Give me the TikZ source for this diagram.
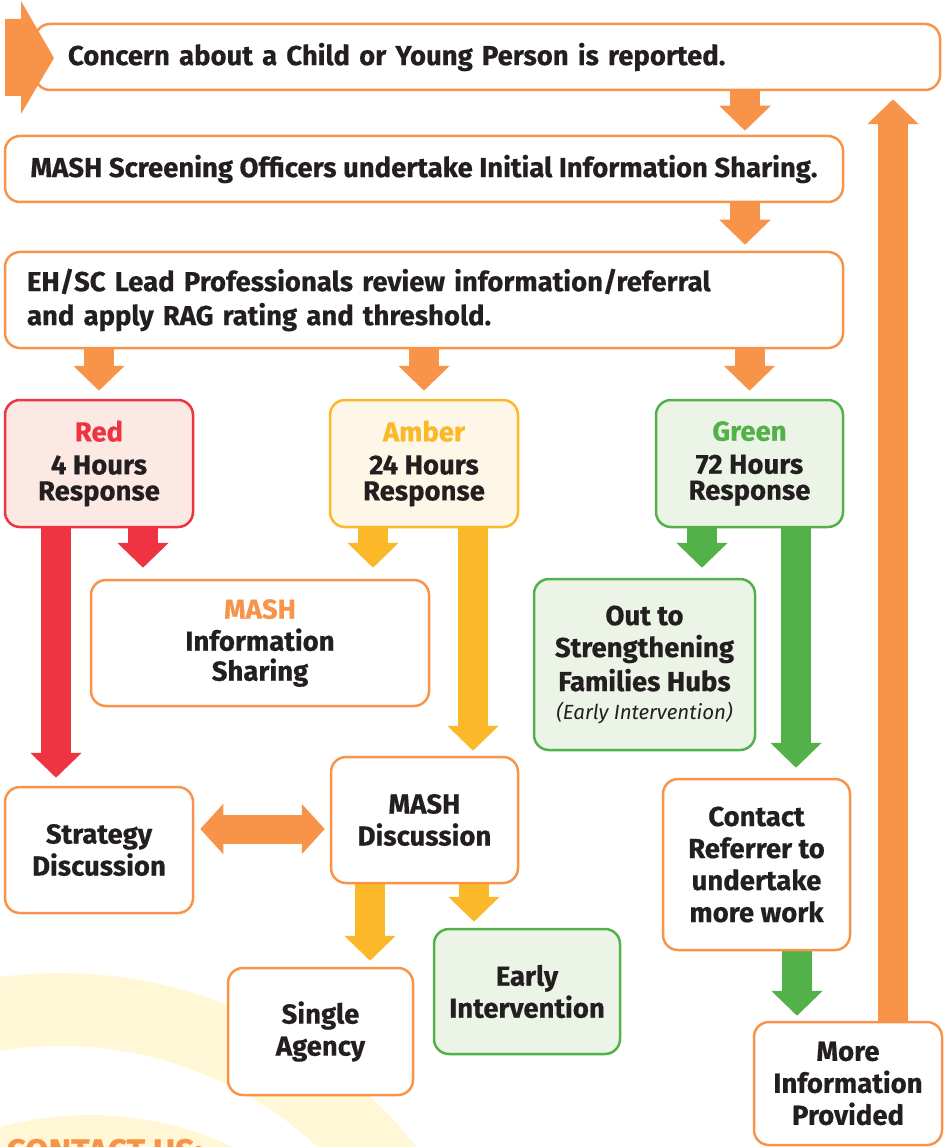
\documentclass[tikz,border=0pt]{standalone}
\usepackage{fontspec}
\setmainfont{Fira Sans}[BoldFeatures={FakeBold=0.5}]
\usetikzlibrary{arrows.meta}
\definecolor{org}{HTML}{F7944A}
\definecolor{redc}{HTML}{EE3442}
\definecolor{amb}{HTML}{FBB829}
\definecolor{grn}{HTML}{52B148}
\definecolor{redf}{HTML}{FDE9E4}
\definecolor{ambf}{HTML}{FEF6E7}
\definecolor{grnf}{HTML}{EBF4E6}
\definecolor{ink}{HTML}{231F20}
\definecolor{arcy}{HTML}{FFF7D6}
\pgfdeclarelayer{back}
\pgfdeclarelayer{bg}
\pgfsetlayers{back,bg,main}
\begin{document}
\begin{tikzpicture}[x=1pt,y=-1pt,
  box/.style={draw=org, line width=2.5pt, rounded corners=15pt, fill=white, align=center,
    text=ink, font=\bfseries\fontsize{27.5}{32}\selectfont, inner sep=0pt},
  redbox/.style={box, draw=redc, fill=redf},
  ambbox/.style={box, draw=amb, fill=ambf},
  grnbox/.style={box, draw=grn, fill=grnf},
  blk/.style={line width=30pt, -{Triangle[width=50pt,length=25pt]}},
  dblk/.style={line width=29pt, {Triangle[width=49pt,length=23pt]}-{Triangle[width=49pt,length=23pt]}}
]
\useasboundingbox (0,0) rectangle (945,1147);

% background arcs
\begin{pgfonlayer}{back}
\begin{scope}
\clip (0,0) rectangle (945,1147);
\fill[arcy, even odd rule] (60,1425) circle[radius=452] (60,1425) circle[radius=379];
\fill[arcy] (90,1450) circle[radius=335];
\end{scope}
\end{pgfonlayer}
\node[anchor=base west, text=org, font=\bfseries\fontsize{34}{38}\selectfont, inner sep=0pt] (contactus) at (6,1163) {CONTACT US:};

% boxes
\node[box, minimum width=905pt, minimum height=66pt, text width=839pt, align=left] (concern) at (487.5,57) {Concern about a Child or Young Person is reported.};
\node[box, minimum width=838pt, minimum height=66pt] (screen) at (424,169) {MASH Screening Officers undertake Initial Information Sharing.};
\node[box, minimum width=838pt, minimum height=96pt, text width=794pt, align=left, font=\bfseries\fontsize{27.5}{34}\selectfont] (ehsc) at (424,300) {EH/SC Lead Professionals review information/referral\\ and apply RAG rating and threshold.};

\node[redbox, minimum width=188pt, minimum height=127pt] (red) at (99,463.5) {\textcolor{redc}{Red}\\[1pt] 4 Hours\\[-6pt] Response};
\node[ambbox, minimum width=188pt, minimum height=127pt] (amber) at (424,463.5) {\textcolor{amb}{Amber}\\[1pt] 24 Hours\\[-6pt] Response};
\node[grnbox, minimum width=187pt, minimum height=127pt] (green) at (749.5,463.5) {\textcolor{grn}{Green}\\[1pt] 72 Hours\\[-6pt] Response};

\node[box, minimum width=338pt, minimum height=126pt] (mashinfo) at (260,643) {\textcolor{org}{MASH}\\ Information\\[-2pt] Sharing};
\node[grnbox, minimum width=221pt, minimum height=171pt] (outsf) at (644.5,664.5) {Out to\\ Strengthening\\[2pt] Families Hubs\\[-4pt] {\mdseries\itshape\fontsize{20.5}{26}\selectfont (Early Intervention)}};

\node[box, minimum width=188pt, minimum height=126pt] (strat) at (99,850) {Strategy\\ Discussion};
\node[box, minimum width=187pt, minimum height=126pt] (mashdisc) at (424.5,820) {MASH\\ Discussion};
\node[box, minimum width=187pt, minimum height=171pt] (contact) at (756.5,864.5) {Contact\\ Referrer to\\ undertake\\ more work};
\node[box, minimum width=185pt, minimum height=127pt] (single) at (320.5,1031.5) {Single\\ Agency};
\node[grnbox, minimum width=186pt, minimum height=125pt] (early) at (527,991.5) {Early\\ Intervention};
\node[box, minimum width=188pt, minimum height=123pt] (moreinfo) at (848,1083.5) {More\\ Information\\ Provided};

% start arrow
\fill[org] (5,19) -- (21,19) -- (21,1) -- (54,58) -- (21,114) -- (21,96) -- (5,96) -- cycle;

% connectors
\begin{pgfonlayer}{bg}
\draw[blk, org, shorten >=4pt] ([xshift=257.5pt]concern.south) -- ([xshift=321pt]screen.north);
\draw[blk, org, shorten >=6pt] ([xshift=321pt]screen.south) -- ([xshift=321pt]ehsc.north);
\draw[blk, org, shorten >=8pt] (ehsc.south -| red.north) -- (red.north);
\draw[blk, org, shorten >=8pt] (ehsc.south -| amber.north) -- (amber.north);
\draw[blk, org, shorten >=8pt] (ehsc.south -| green.north) -- (green.north);
\draw[blk, redc, shorten >=11pt] ([xshift=44pt]red.south) -- ([xshift=-117pt]mashinfo.north);
\draw[blk, amb, shorten >=11pt] ([xshift=-51pt]amber.south) -- ([xshift=113pt]mashinfo.north);
\draw[blk, redc, shorten >=8pt] ([xshift=-43pt]red.south) -- ([xshift=-43pt]strat.north);
\draw[blk, amb, shorten >=5pt] ([xshift=49pt]amber.south) -- ([xshift=48.5pt]mashdisc.north);
\draw[blk, grn, shorten >=10pt] ([xshift=-47.5pt]green.south) -- ([xshift=57.5pt]outsf.north);
\draw[blk, grn, shorten >=10pt] ([xshift=46.5pt]green.south) -- ([xshift=39.5pt]contact.north);
\draw[dblk, org, shorten <=6pt, shorten >=5pt] ([yshift=21pt]strat.east) -- ([yshift=-9pt]mashdisc.west);
\draw[blk, amb, shorten >=6pt] ([xshift=-54.5pt]mashdisc.south) -- ([xshift=49.5pt]single.north);
\draw[blk, amb, shorten >=6pt] ([xshift=49.5pt]mashdisc.south) -- ([xshift=-53pt]early.north);
\draw[blk, grn, shorten >=5pt] ([xshift=40.5pt]contact.south) -- ([xshift=-51pt]moreinfo.north);
\draw[blk, org, shorten >=8pt] ([xshift=45pt]moreinfo.north) -- ([xshift=405.5pt]concern.south);
\end{pgfonlayer}
\end{tikzpicture}
\end{document}
